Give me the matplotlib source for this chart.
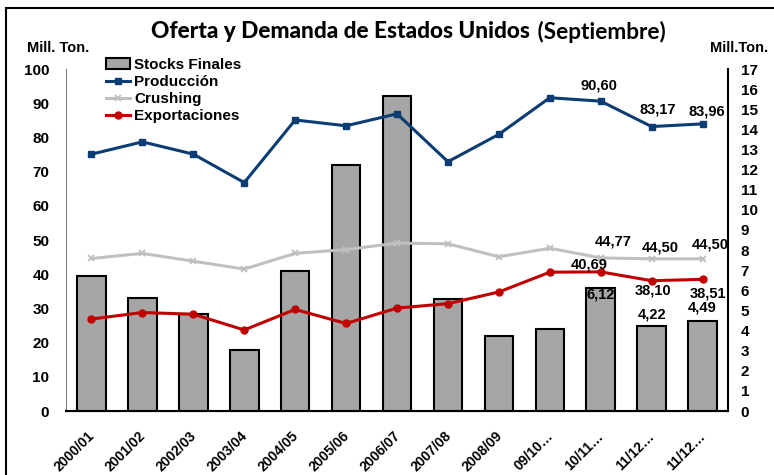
import matplotlib
matplotlib.use("Agg")
import matplotlib.pyplot as plt
from matplotlib.patches import Rectangle
from matplotlib.transforms import ScaledTranslation

# datos
campanias = ['2000/01', '2001/02', '2002/03', '2003/04', '2004/05', '2005/06',
             '2006/07', '2007/08', '2008/09', '09/10…', '10/11…', '11/12…', '11/12…']
stocks = [6.73, 5.63, 4.82, 3.03, 6.94, 12.21, 15.66, 5.55, 3.71, 4.09, 6.12, 4.22, 4.49]
produccion = [75.1, 78.7, 75.1, 66.8, 85.1, 83.4, 86.9, 72.9, 80.9, 91.6, 90.60, 83.17, 83.96]
crushing = [44.6, 46.1, 43.8, 41.5, 46.1, 47.2, 49.1, 48.9, 45.1, 47.6, 44.77, 44.50, 44.50]
exportaciones = [26.9, 28.8, 28.3, 23.7, 29.7, 25.6, 30.1, 31.4, 34.8, 40.6, 40.69, 38.10, 38.51]

plt.rcParams['font.family'] = ['Liberation Sans', 'DejaVu Sans']
plt.rcParams['font.weight'] = 'bold'

fig = plt.figure(figsize=(7.74, 4.75), dpi=100)
ax = fig.add_axes([0.0853, 0.1347, 0.8553, 0.72])
ax2 = ax.twinx()
ax.set_zorder(ax2.get_zorder() + 1)
ax.patch.set_visible(False)

x = list(range(len(campanias)))

barras = ax2.bar(x, stocks, width=0.56, color='#A6A6A6', edgecolor='black',
                 linewidth=1.5, label='Stocks Finales')
l1, = ax.plot(x, produccion, color='#0B3C73', lw=2.2, marker='s', ms=5,
              label='Producción')
l2, = ax.plot(x, crushing, color='#C0C0C0', lw=2.2, marker='x', ms=5, mew=1.3,
              label='Crushing')
l3, = ax.plot(x, exportaciones, color='#C00000', lw=2.2, marker='o', ms=5,
              label='Exportaciones')

ax.set_xlim(-0.5, len(campanias) - 0.5)
ax.set_ylim(0, 100)
ax.set_yticks(range(0, 101, 10))
ax2.set_ylim(0, 17)
ax2.set_yticks(range(0, 18))

for a in (ax, ax2):
    a.spines['top'].set_visible(False)
    a.tick_params(length=0, labelsize=11)
ax.spines['left'].set_color('#808080')
ax.spines['right'].set_visible(False)
ax2.spines['left'].set_visible(False)
ax2.spines['right'].set_color('black')
ax2.spines['right'].set_linewidth(1.5)
ax.spines['bottom'].set_linewidth(1.5)
ax.tick_params(axis='y', pad=12)
ax2.tick_params(axis='y', pad=9)

ax.set_xticks(x)
ax.set_xticklabels(campanias, rotation=45, ha='right', rotation_mode='anchor',
                   fontsize=10)
ax.tick_params(axis='x', pad=13)
desplaza = ScaledTranslation(-4 / 100, 0, fig.dpi_scale_trans)
for lab in ax.get_xticklabels():
    lab.set_transform(lab.get_transform() + desplaza)

# etiquetas de los ultimos valores (desplazamiento en pixeles)
def etiqueta(eje, texto, i, v, dx, dy):
    eje.annotate(texto, (i, v), xytext=(dx, dy), textcoords='offset pixels',
                 ha='center', va='center', fontsize=10.5)

etiqueta(ax, '90,60', 10, produccion[10], -2, 16)
etiqueta(ax, '83,17', 11, produccion[11], 6, 17)
etiqueta(ax, '83,96', 12, produccion[12], 4, 12)
etiqueta(ax, '44,77', 10, crushing[10], 12, 16)
etiqueta(ax, '44,50', 11, crushing[11], 9, 11)
etiqueta(ax, '44,50', 12, crushing[12], 8, 14)
etiqueta(ax, '40,69', 10, exportaciones[10], -12, 7)
etiqueta(ax, '38,10', 11, exportaciones[11], 1, -10)
etiqueta(ax, '38,51', 12, exportaciones[12], 5, -14)
etiqueta(ax2, '6,12', 10, stocks[10], 0, -7)
etiqueta(ax2, '4,22', 11, stocks[11], 0, 12)
etiqueta(ax2, '4,49', 12, stocks[12], 0, 13)

# titulo
fig.text(0.685, 0.933, 'Oferta y Demanda de Estados Unidos', family='Lato',
         fontsize=16.3, weight='black', ha='right', va='center')
fig.text(0.687, 0.933, ' (Septiembre)', family='Lato', fontsize=16.3,
         weight='bold', ha='left', va='center')

fig.text(0.035, 0.899, 'Mill. Ton.', fontsize=10.5, ha='left', va='center')
fig.text(0.993, 0.899, 'Mill.Ton.', fontsize=10.5, ha='right', va='center')

fig.legend([barras, l1, l2, l3],
           ['Stocks Finales', 'Producción', 'Crushing', 'Exportaciones'],
           loc='upper left', bbox_to_anchor=(0.137, 0.878), frameon=False,
           prop={'weight': 'bold', 'size': 11}, handlelength=1.6,
           handletextpad=0.25, labelspacing=0.2, borderpad=0, borderaxespad=0)

# marco de la figura
fig.patches.append(Rectangle((6 / 774, -0.1), 1.2, 1 - 8 / 475 + 0.1,
                             transform=fig.transFigure, fill=False,
                             edgecolor='black', linewidth=1.5))

fig.savefig('out.png', dpi=100)
